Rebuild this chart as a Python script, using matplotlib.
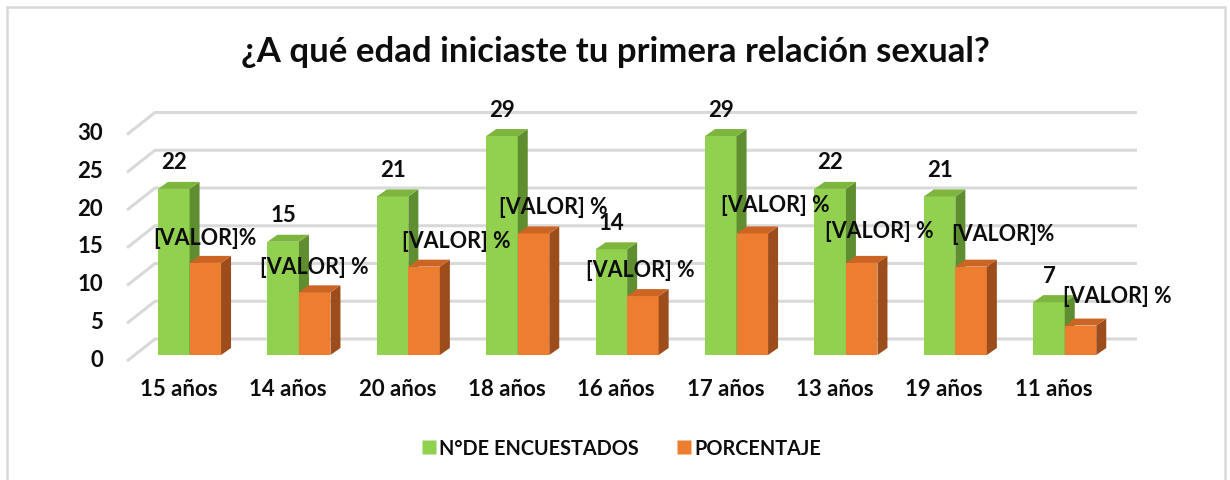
import matplotlib
matplotlib.use("Agg")
import matplotlib.pyplot as plt
from matplotlib.patches import Polygon, Rectangle
from matplotlib.lines import Line2D

plt.rcParams['font.family'] = ['Lato', 'DejaVu Sans']

# ---- data ----
categories = ["15 años", "14 años", "20 años", "18 años", "16 años",
              "17 años", "13 años", "19 años", "11 años"]
encuestados = [22, 15, 21, 29, 14, 29, 22, 21, 7]
porcentaje = [12.2, 8.3, 11.7, 16.1, 7.8, 16.1, 12.2, 11.7, 3.9]
pct_labels = ["[VALOR]%", "[VALOR] %", "[VALOR] %", "[VALOR] %", "[VALOR] %",
              "[VALOR] %", "[VALOR] %", "[VALOR]%", "[VALOR] %"]
yticks = [0, 5, 10, 15, 20, 25, 30]
title = "¿A qué edad iniciaste tu primera relación sexual?"
series_names = ["N°DE ENCUESTADOS", "PORCENTAJE"]

# ---- styling / layout ----
W, H = 1230, 481
PX_X = 109.4   # pixels per category
PX_Y = 7.55    # pixels per value unit
X0_PX = 178.5  # pixel x of category 0
Y0_PX = 356    # pixel y (from top) of value 0

green, green_top, green_side = "#92D050", "#7DB53F", "#5F8E31"
orange, orange_top, orange_side = "#ED7D31", "#CC6423", "#9C4D1B"
grid_c = "#D9D9D9"
txt_c = "#0D0D0D"

fig = plt.figure(figsize=(W / 100, H / 100), dpi=100)
ax = fig.add_axes([0, 0, 1, 1])
ax.set_xlim(-X0_PX / PX_X, (W - X0_PX) / PX_X)
ax.set_ylim((Y0_PX - H) / PX_Y, Y0_PX / PX_Y)
ax.axis("off")

def px_x(p):
    return (p - X0_PX) / PX_X

ddx = 10 / PX_X   # bar depth offsets
ddy = 7 / PX_Y

# grid (pseudo 3D wall + floor)
gx0, gx1, gx2 = px_x(127), px_x(155), px_x(1137)
for v in yticks:
    ax.plot([gx0, gx1, gx2], [v - 0.8, v + 2.12, v + 2.12], color=grid_c,
            lw=2.2, solid_capstyle="butt", zorder=1)
    ax.text(px_x(103), v - 0.55, str(v), ha="right", va="center",
            fontsize=16, fontweight="bold", color=txt_c)

bw = 0.288
g_off = -0.187
o_off = g_off + bw
xs = list(range(len(categories)))

def draw_3d(lefts, heights, front, top, side, z):
    bars = ax.bar(lefts, heights, width=bw, align="edge", color=front,
                  linewidth=0, zorder=z)
    for l, h in zip(lefts, heights):
        r = l + bw
        ax.add_patch(Polygon([(r, 0), (r + ddx, ddy), (r + ddx, h + ddy), (r, h)],
                             closed=True, facecolor=side, edgecolor="none", zorder=z))
        ax.add_patch(Polygon([(l, h), (l + ddx, h + ddy), (r + ddx, h + ddy), (r, h)],
                             closed=True, facecolor=top, edgecolor="none", zorder=z))
    return bars

g_lefts = [x + g_off for x in xs]
o_lefts = [x + o_off for x in xs]
gb = draw_3d(g_lefts, encuestados, green, green_top, green_side, 3)
ob = draw_3d(o_lefts, porcentaje, orange, orange_top, orange_side, 4)

# data labels
for l, h in zip(g_lefts, encuestados):
    ax.annotate(str(h), (l + bw / 2, h), xytext=(0, 27), textcoords="offset pixels",
                ha="center", va="center", fontsize=16, fontweight="bold",
                color=txt_c, zorder=6)

pct_dx = [0, 0, 32, 20, -3, 23, 18, 32, 37]
pct_dy = [25, 26, 26, 27, 27, 29, 32, 33, 30]
for l, h, t, dx, dy in zip(o_lefts, porcentaje, pct_labels, pct_dx, pct_dy):
    ax.annotate(t, (l + bw / 2, h), xytext=(dx, dy), textcoords="offset pixels",
                ha="center", va="center", fontsize=15.5, fontweight="bold",
                color=txt_c, zorder=6)

# category labels
for x, c in zip(xs, categories):
    ax.text(x, (Y0_PX - 390) / PX_Y, c, ha="center", va="center",
            fontsize=16, fontweight="bold", color=txt_c)

# title
fig.text(0.5, 1 - 52 / H, title, ha="center", va="center", fontsize=25,
         fontweight="bold", color=txt_c)

# legend
handles = [Line2D([], [], marker="s", linestyle="none", markersize=10.5,
                  markerfacecolor=green, markeredgecolor="none"),
           Line2D([], [], marker="s", linestyle="none", markersize=10.5,
                  markerfacecolor=orange, markeredgecolor="none")]
leg = fig.legend(handles, series_names, loc="center", ncol=2,
                 bbox_to_anchor=(620 / W, 1 - 449 / H), frameon=False,
                 prop={"weight": "bold", "size": 14.3}, handletextpad=0.0,
                 columnspacing=1.8, handlelength=1.0)
for t in leg.get_texts():
    t.set_color(txt_c)

# outer border
fig.patches.append(Rectangle((7 / W, -0.02), (1225 - 7) / W, 1.02 - 8 / H,
                             transform=fig.transFigure, fill=False,
                             edgecolor=grid_c, linewidth=1.8))

fig.savefig("out.png", dpi=100, facecolor="white")
